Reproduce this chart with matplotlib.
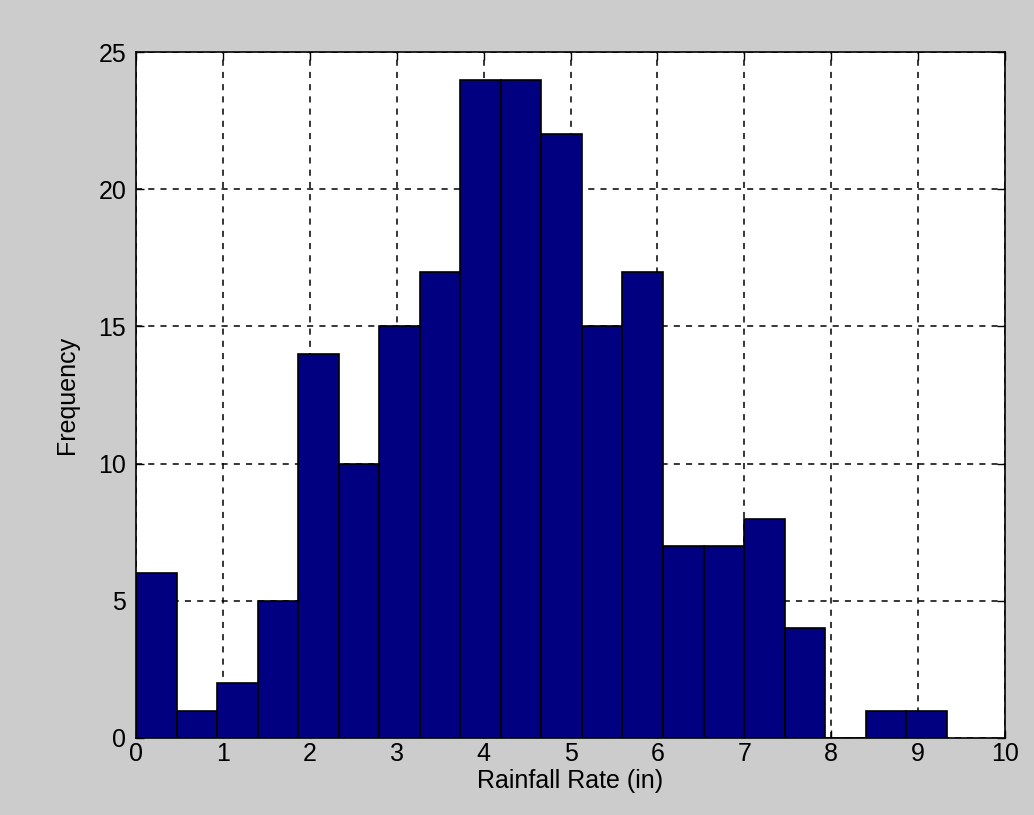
import numpy as np
import matplotlib.pyplot as plt

plt.rcParams['font.family'] = ['Liberation Sans', 'DejaVu Sans']

# histogram counts (20 bins from 0 to ~9.33)
counts = [6, 1, 2, 5, 14, 10, 15, 17, 24, 24, 22, 15, 17, 7, 7, 8, 4, 0, 1, 1]
bin_lo = 0.0
bin_hi = 9.33

edges = np.linspace(bin_lo, bin_hi, len(counts) + 1)
widths = np.diff(edges)

fig = plt.figure(figsize=(10.34, 8.15), dpi=100, facecolor='#cccccc')
ax = fig.add_axes([0.1315, 0.0945, 0.8405, 0.8415])

ax.bar(edges[:-1], counts, widths, align='edge',
       color='#000080', edgecolor='black', linewidth=1.2, zorder=3)

ax.set_xlim(0, 10)
ax.set_ylim(0, 25)
ax.set_xticks(range(0, 11))
ax.set_yticks(range(0, 26, 5))
ax.grid(True, color='black', linestyle=(0, (4, 4)), linewidth=1.1, zorder=1)
ax.set_axisbelow(True)
ax.tick_params(direction='in', length=6, labelsize=18, top=True, right=True,
               width=1, pad=3)
ax.tick_params(axis='y', pad=7)
for s in ax.spines.values():
    s.set_linewidth(1.2)
    s.set_zorder(4)

ax.set_xlabel('Rainfall Rate (in)', fontsize=18, labelpad=2)
ax.set_ylabel('Frequency', fontsize=18, labelpad=14)

fig.savefig('out.png', dpi=100, facecolor=fig.get_facecolor())
